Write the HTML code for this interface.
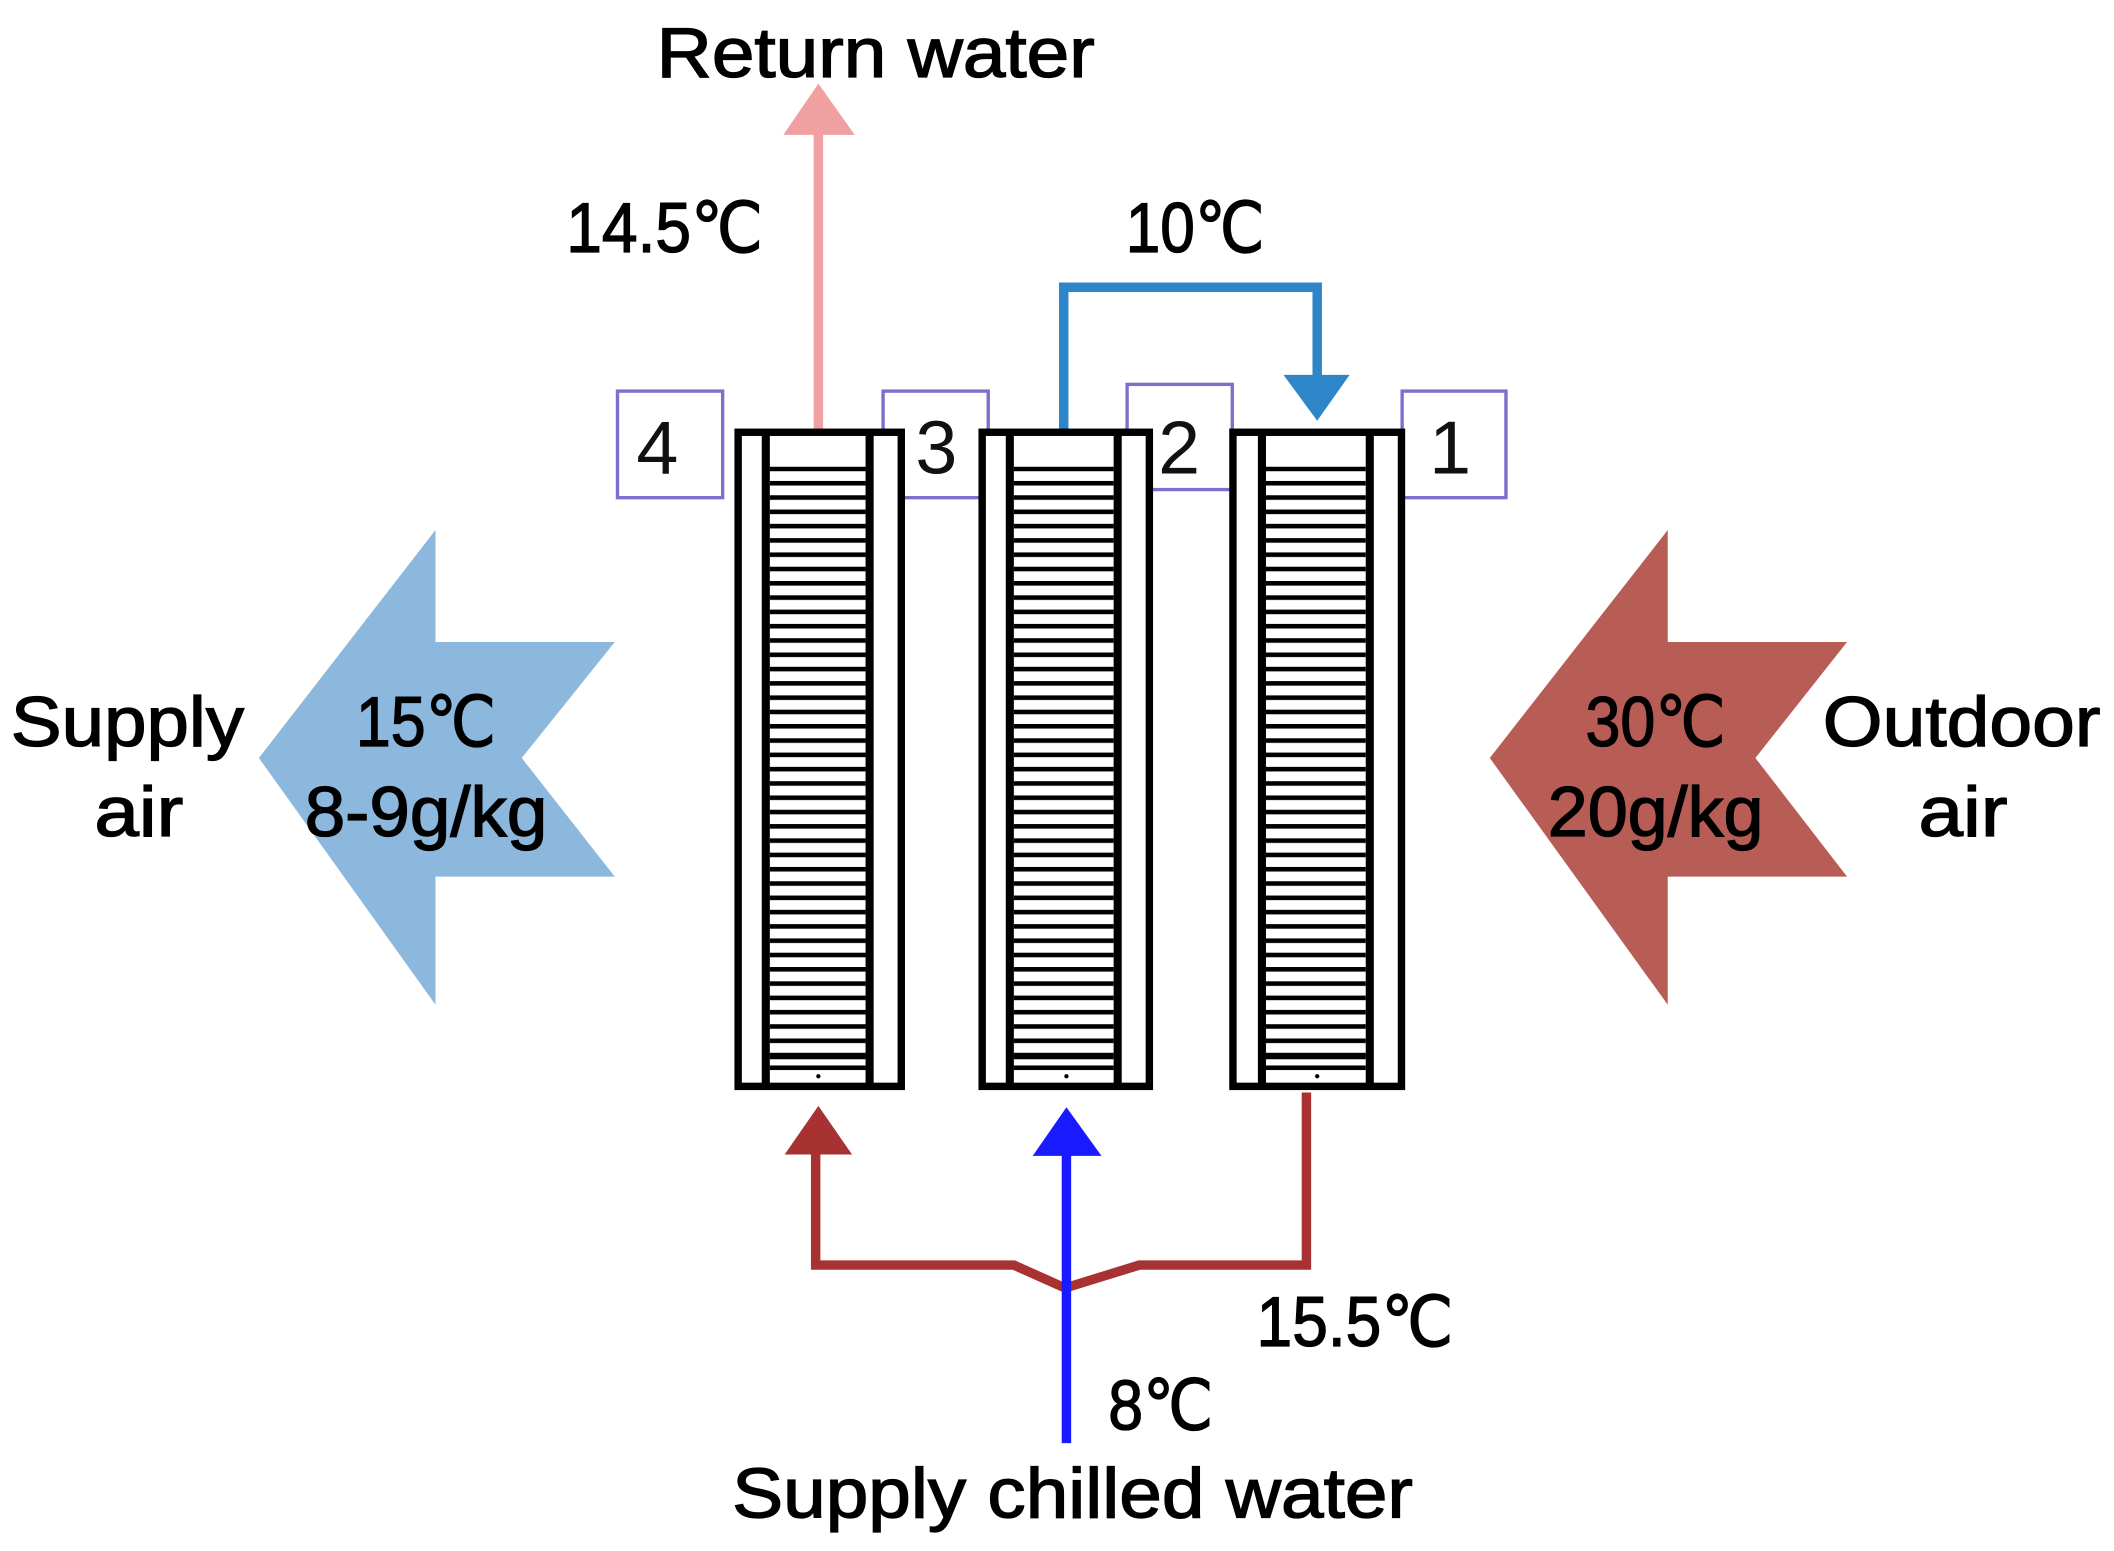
<!DOCTYPE html>
<html><head><meta charset="utf-8"><style>html,body{margin:0;padding:0;background:#fff}svg{display:block}</style></head>
<body>
<svg width="2114" height="1551" viewBox="0 0 1568 1150" preserveAspectRatio="none" xmlns="http://www.w3.org/2000/svg" font-family="Liberation Sans, Arial, sans-serif">
<defs>
<pattern id="fins" x="0" y="346" width="20" height="10.6" patternUnits="userSpaceOnUse">
<rect x="0" y="0" width="20" height="3.4" fill="#000"/>
</pattern>
</defs>
<rect width="1568" height="1150" fill="#fff"/>
<polygon points="192,562 323,393 323,476 456,476 387,562 456,650 323,650 323,745" fill="#8db8de"/>
<polygon points="1105,562 1237,393 1237,476 1370,476 1302,562 1370,650 1237,650 1237,745" fill="#b85d56"/>
<g fill="#fff" stroke="#7b70cc" stroke-width="2.5">
<rect x="458" y="290" width="78" height="79"/>
<rect x="655" y="290" width="78" height="79"/>
<rect x="836" y="285" width="78" height="78"/>
<rect x="1040" y="290" width="77" height="79"/>
</g>
<g font-size="56" fill="#111">
<text x="472" y="351">4</text>
<text x="679" y="351">3</text>
<text x="859" y="351">2</text>
<text x="1060" y="351">1</text>
</g>
<line x1="607" y1="318" x2="607" y2="95" stroke="#f0a0a0" stroke-width="7"/>
<polygon points="581,100 607,62 634,100" fill="#f0a0a0"/>
<polyline points="789,318 789,213 977,213 977,280" fill="none" stroke="#2e86c8" stroke-width="7"/>
<polygon points="952,278 1001,278 977,312" fill="#2e86c8"/>
<g>
<rect x="547.5" y="320.5" width="121" height="485" fill="#fff" stroke="#000" stroke-width="5.5"/>
<rect x="565" y="320" width="6" height="488" fill="#000"/>
<rect x="642" y="320" width="6" height="488" fill="#000"/>
<rect x="571" y="346" width="71" height="437" fill="url(#fins)"/>
<rect x="571" y="782" width="71" height="3.4" fill="#000"/>
<rect x="571" y="790" width="71" height="3.4" fill="#000"/>
<circle cx="607" cy="798" r="1.6" fill="#000"/>
</g>
<g>
<rect x="728.5" y="320.5" width="124" height="485" fill="#fff" stroke="#000" stroke-width="5.5"/>
<rect x="746" y="320" width="6" height="488" fill="#000"/>
<rect x="826" y="320" width="6" height="488" fill="#000"/>
<rect x="752" y="346" width="74" height="437" fill="url(#fins)"/>
<rect x="752" y="782" width="74" height="3.4" fill="#000"/>
<rect x="752" y="790" width="74" height="3.4" fill="#000"/>
<circle cx="791" cy="798" r="1.6" fill="#000"/>
</g>
<g>
<rect x="914.5" y="320.5" width="125" height="485" fill="#fff" stroke="#000" stroke-width="5.5"/>
<rect x="933" y="320" width="6" height="488" fill="#000"/>
<rect x="1013" y="320" width="6" height="488" fill="#000"/>
<rect x="939" y="346" width="74" height="437" fill="url(#fins)"/>
<rect x="939" y="782" width="74" height="3.4" fill="#000"/>
<rect x="939" y="790" width="74" height="3.4" fill="#000"/>
<circle cx="977" cy="798" r="1.6" fill="#000"/>
</g>
<polyline points="969,810 969,938 845,938 790,955 752,938 605,938 605,850" fill="none" stroke="#a83232" stroke-width="7" stroke-linejoin="miter"/>
<polygon points="582,856 607,820 632,856" fill="#a83232"/>
<line x1="791" y1="1070" x2="791" y2="850" stroke="#1a1aff" stroke-width="7"/>
<polygon points="766,857 791,821 817,857" fill="#1a1aff"/>
<g font-size="52" fill="#000" stroke="#000" stroke-width="1">
<text x="487" y="57" textLength="325" lengthAdjust="spacingAndGlyphs">Return water</text>
<text x="420" y="187" textLength="146" lengthAdjust="spacingAndGlyphs">14.5℃</text>
<text x="835" y="187" textLength="103" lengthAdjust="spacingAndGlyphs">10℃</text>
<text x="8" y="553" textLength="173" lengthAdjust="spacingAndGlyphs">Supply</text>
<text x="70" y="620" textLength="66" lengthAdjust="spacingAndGlyphs">air</text>
<text x="264" y="553" textLength="104" lengthAdjust="spacingAndGlyphs">15℃</text>
<text x="226" y="620" textLength="180" lengthAdjust="spacingAndGlyphs">8-9g/kg</text>
<text x="1176" y="553" textLength="104" lengthAdjust="spacingAndGlyphs">30℃</text>
<text x="1148" y="620" textLength="160" lengthAdjust="spacingAndGlyphs">20g/kg</text>
<text x="1352" y="553" textLength="206" lengthAdjust="spacingAndGlyphs">Outdoor</text>
<text x="1423" y="620" textLength="66" lengthAdjust="spacingAndGlyphs">air</text>
<text x="932" y="998" textLength="146" lengthAdjust="spacingAndGlyphs">15.5℃</text>
<text x="822" y="1060" textLength="78" lengthAdjust="spacingAndGlyphs">8℃</text>
<text x="543" y="1125" textLength="505" lengthAdjust="spacingAndGlyphs">Supply chilled water</text>
</g>
</svg>
</body></html>
